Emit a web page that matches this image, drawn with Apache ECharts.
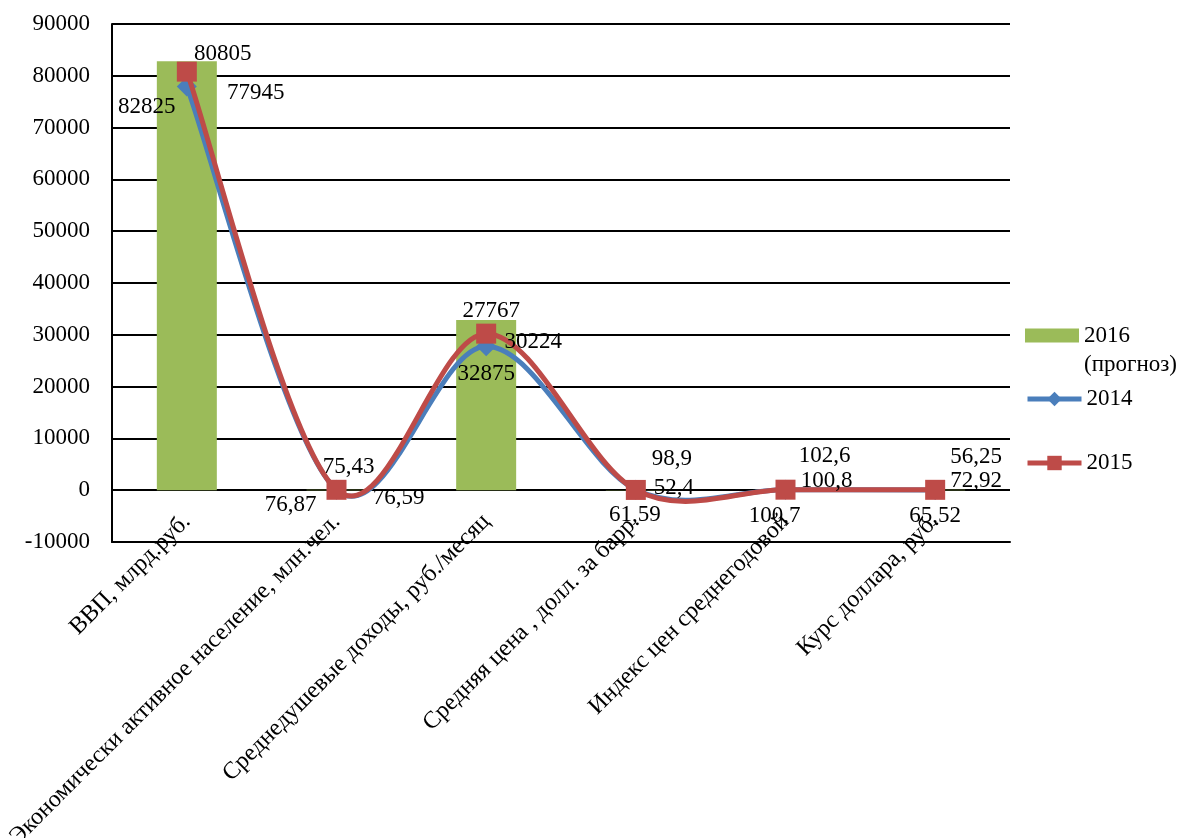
<!DOCTYPE html>
<html><head><meta charset="utf-8">
<script src="https://cdn.jsdelivr.net/npm/echarts@6/dist/echarts.min.js"></script>
<style>html,body{margin:0;padding:0;background:#fff}#c{width:1183px;height:838px}</style>
</head><body><div id="c"></div>
<script>
const categories = [
  'ВВП, млрд.руб.',
  'Экономически активное население, млн.чел.',
  'Среднедушевые доходы, руб./месяц',
  'Средняя цена , долл. за барр.',
  'Индекс цен среднегодовой',
  'Курс доллара, руб.'
];
const seriesNames = ['2016 (прогноз)', '2014', '2015'];
const values2016 = [82825, 76.87, 32875, 61.59, 100.7, 65.52];
const values2014 = [77945, 75.43, 27767, 98.9, 102.6, 56.25];
const values2015 = [80805, 76.59, 30224, 52.4, 100.8, 72.92];
const yMin = -10000, yMax = 90000, yStep = 10000;

// label placement (pixel offsets from each mark)
const offsets2016 = [[-40,46],[-46,15],[0,54],[-1,25],[-11,26],[0,26]];
const offsets2014 = [[69,7],[12,-23],[5,-35],[36,-31],[39,-34],[41,-33]];
const offsets2015 = [[36,-18],[62,8],[47,8],[38,-2],[41,-9],[41,-9]];

const FONT = '"Liberation Serif","Times New Roman",serif';
const BLUE = '#4a7ebb', RED = '#be4b48', GREEN = '#9bbb59';
const fmt = p => String(p.value).replace('.', ',');
const lbl = {show: true, color: '#000', fontFamily: FONT, fontSize: 23, formatter: fmt, align: 'center', verticalAlign: 'middle'};
const mk = (vals, offs) => vals.map((v, i) => ({value: v, label: {offset: offs[i]}}));

// Excel-like smoothed curve (Catmull-Rom style bezier between neighbouring points)
function curveSeries(name, vals, color, z) {
  return {
    name: name, type: 'custom', coordinateSystem: 'cartesian2d', silent: true, z: z,
    data: vals,
    renderItem: function (params, api) {
      const i = params.dataIndex, n = vals.length;
      if (i >= n - 1) return null;
      const P = k => { const j = Math.max(0, Math.min(n - 1, k)); return api.coord([j, vals[j]]); };
      const p0 = P(i - 1), p1 = P(i), p2 = P(i + 1), p3 = P(i + 2);
      return {
        type: 'bezierCurve',
        shape: {
          x1: p1[0], y1: p1[1], x2: p2[0], y2: p2[1],
          cpx1: p1[0] + (p2[0] - p0[0]) / 6, cpy1: p1[1] + (p2[1] - p0[1]) / 6,
          cpx2: p2[0] - (p3[0] - p1[0]) / 6, cpy2: p2[1] - (p3[1] - p1[1]) / 6
        },
        style: {stroke: color, lineWidth: 5, fill: null, lineCap: 'round'}
      };
    }
  };
}

const chart = echarts.init(document.getElementById('c'), null, {renderer: 'canvas'});
chart.setOption({
  animation: false,
  backgroundColor: '#fff',
  grid: {left: 112, right: 173, top: 24, bottom: 296, containLabel: false, outerBoundsMode: 'none'},
  xAxis: {
    type: 'category', data: categories, boundaryGap: true,
    axisLine: {onZero: false, lineStyle: {color: '#000', width: 2}},
    axisTick: {show: false},
    axisLabel: {interval: 0, rotate: 45, margin: -24, color: '#000', fontFamily: FONT, fontSize: 24}
  },
  yAxis: {
    type: 'value', min: yMin, max: yMax, interval: yStep,
    axisLine: {show: true, lineStyle: {color: '#000', width: 2}},
    axisTick: {show: false},
    splitLine: {lineStyle: {color: '#000', width: 2}},
    axisLabel: {margin: 22, color: '#000', fontFamily: FONT, fontSize: 23, formatter: v => String(v)}
  },
  legend: [
    {data: [seriesNames[0]], left: 1025, top: 292, padding: 0, itemWidth: 54, itemHeight: 14, icon: 'rect',
     formatter: () => '\n2016\n(прогноз)',
     textStyle: {color: '#000', fontFamily: FONT, fontSize: 23, lineHeight: 29}},
    {data: [seriesNames[1]], left: 1025, top: 385, padding: 0, itemWidth: 54, itemHeight: 18,
     lineStyle: {color: BLUE, width: 5, opacity: 1},
     textStyle: {color: '#000', fontFamily: FONT, fontSize: 23, lineHeight: 28}},
    {data: [seriesNames[2]], left: 1025, top: 449, padding: 0, itemWidth: 54, itemHeight: 18,
     lineStyle: {color: RED, width: 5, opacity: 1},
     textStyle: {color: '#000', fontFamily: FONT, fontSize: 23, lineHeight: 28}}
  ],
  series: [
    {name: seriesNames[0], type: 'bar', barWidth: 60, z: 2, data: mk(values2016, offsets2016),
     itemStyle: {color: GREEN},
     label: Object.assign({}, lbl, {position: 'top', distance: 0})},
    curveSeries('curve2014', values2014, BLUE, 3),
    {name: seriesNames[1], type: 'line', z: 4, data: mk(values2014, offsets2014),
     symbol: 'diamond', symbolSize: 20,
     itemStyle: {color: BLUE}, lineStyle: {color: BLUE, width: 5, opacity: 0},
     label: Object.assign({}, lbl, {position: 'inside'})},
    curveSeries('curve2015', values2015, RED, 5),
    {name: seriesNames[2], type: 'line', z: 6, data: mk(values2015, offsets2015),
     symbol: 'rect', symbolSize: 20,
     itemStyle: {color: RED}, lineStyle: {color: RED, width: 5, opacity: 0},
     label: Object.assign({}, lbl, {position: 'inside'})}
  ]
});
</script></body></html>
